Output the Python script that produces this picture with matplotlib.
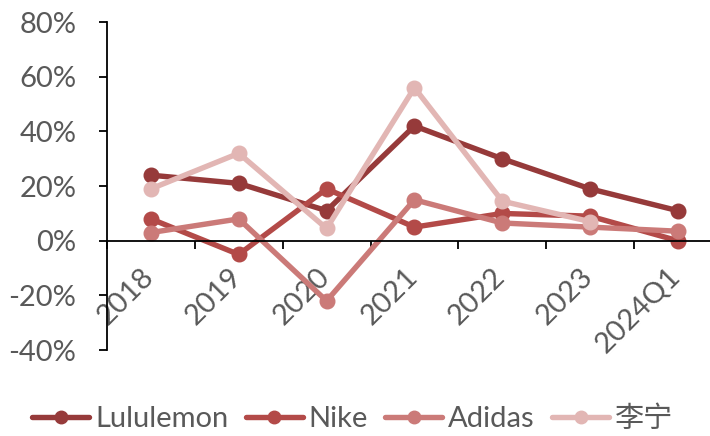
import matplotlib.pyplot as plt
import matplotlib.transforms as mtransforms
import numpy as np

plt.rcParams['font.family'] = ['Lato', 'Noto Sans CJK SC', 'DejaVu Sans']

# data (growth rate, %)
years = ['2018', '2019', '2020', '2021', '2022', '2023', '2024Q1']
lululemon = [24, 21, 11, 42, 30, 19, 11]
nike = [8, -5, 19, 5, 10, 9, 0]
adidas = [3, 8, -22, 15, 6.5, 5, 3.5]
lining = [19, 32, 4.5, 56, 14.5, 7, np.nan]

names = ['Lululemon', 'Nike', 'Adidas', '李宁']
colors = ['#963a3a', '#b34a48', '#cb7a78', '#e2b6b4']
grey = '#595959'

fig = plt.figure(figsize=(7.1, 4.36), dpi=100)
ax = fig.add_axes([0.1507, 0.197, 0.866, 0.7523])

x = np.arange(len(years))
for vals, name, c in zip([lululemon, nike, adidas, lining], names, colors):
    ax.plot(x, vals, color=c, lw=3.9, marker='o', ms=10.5, label=name,
            solid_capstyle='round')

ax.set_xlim(-0.5, len(years) - 0.5)
ax.set_ylim(-40, 80)
ax.set_yticks(np.arange(-40, 81, 20))
ax.set_yticklabels([f'{v}%' for v in range(-40, 81, 20)])

for s in ['top', 'right']:
    ax.spines[s].set_visible(False)
ax.spines['bottom'].set_position(('data', 0))
ax.spines['left'].set_linewidth(1.3)
ax.spines['bottom'].set_linewidth(1.3)

ax.set_xticks(x)
ax.set_xticks(np.arange(-0.5, len(years), 1.0), minor=True)
ax.set_xticklabels(years, rotation=45, ha='right')
ax.tick_params(axis='x', which='major', length=0, pad=16, labelsize=21, labelcolor=grey)
ax.tick_params(axis='x', which='minor', length=6, width=1.3, direction='out')
ax.tick_params(axis='y', length=6, width=1.3, pad=16, labelsize=21, labelcolor=grey)

offset = mtransforms.ScaledTranslation(8 / 100, 0, fig.dpi_scale_trans)
for lab in ax.get_xticklabels():
    lab.set_transform(lab.get_transform() + offset)

leg = fig.legend(loc='center', bbox_to_anchor=(0.497, 0.04), ncol=4, frameon=False,
                 fontsize=21, handlelength=1.95, handletextpad=0.2, columnspacing=0.6,
                 labelcolor=grey)
for h in leg.legend_handles:
    h.set_markersize(9)

fig.savefig('out.png', dpi=100)
